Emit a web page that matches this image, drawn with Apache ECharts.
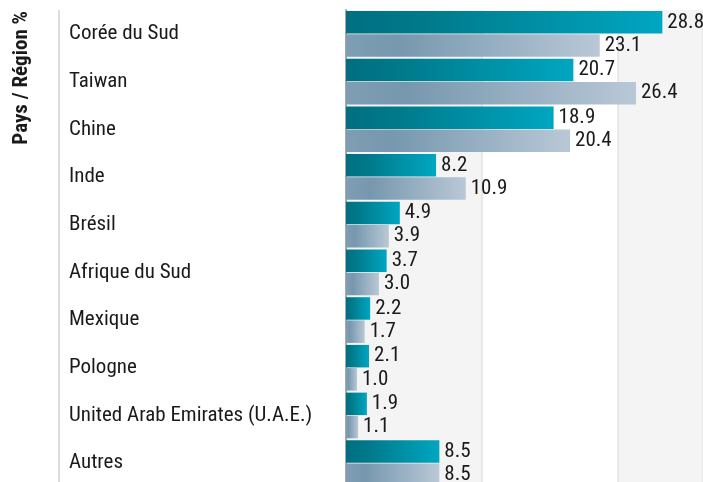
<!DOCTYPE html>
<html>
<head>
<meta charset="utf-8">
<script src="https://cdn.jsdelivr.net/npm/echarts@6/dist/echarts.min.js"></script>
<style>
html,body{margin:0;padding:0;background:#fff;}
#c{width:703px;height:482px;}
</style>
</head>
<body>
<div id="c"></div>
<script>
const categories = ['Corée du Sud','Taiwan','Chine','Inde','Brésil','Afrique du Sud','Mexique','Pologne','United Arab Emirates (U.A.E.)','Autres'];
const seriesA = [28.8, 20.7, 18.9, 8.2, 4.9, 3.7, 2.2, 2.1, 1.9, 8.5];
const seriesB = [23.1, 26.4, 20.4, 10.9, 3.9, 3.0, 1.7, 1.0, 1.1, 8.5];
const axisTitle = 'Pays / Région %';

const FONT = "'Roboto Condensed','Liberation Sans Narrow','DejaVu Sans Condensed',sans-serif";
const chart = echarts.init(document.getElementById('c'), null, {renderer:'canvas'});

function grad(stops){
  return new echarts.graphic.LinearGradient(0,0,1,0, stops.map((c,i)=>({offset:c[0],color:c[1]})));
}
const darkGrad = grad([[0,'#006f80'],[0.25,'#007a8b'],[1,'#00a6c1']]);
const lightGrad = grad([[0,'#7f9eb4'],[0.2,'#7697ae'],[1,'#b9c8d6']]);

const labelCfg = {
  show:true, position:'right', distance:5,
  fontFamily:FONT, fontSize:21, color:'#1a1a1a',
  formatter: p => p.value.toFixed(1)
};

chart.setOption({
  animation:false,
  backgroundColor:'#fff',
  grid:{left:346, width:357, top:10, height:477, containLabel:false, outerBoundsMode:'none'},
  xAxis:{
    type:'value', min:0, max:32.5, interval:12.375,
    axisLabel:{show:false}, axisTick:{show:false}, axisLine:{show:false},
    splitLine:{show:true, lineStyle:{color:'#e3e3e3', width:1.5}},
    splitArea:{show:true, areaStyle:{color:['#f4f4f4','#ffffff']}}
  },
  yAxis:{
    type:'category', data:categories, inverse:true,
    axisLine:{show:true, lineStyle:{color:'#a8a8a8', width:2}},
    axisTick:{show:false},
    axisLabel:{align:'left', margin:277, fontFamily:FONT, fontSize:21, color:'#1a1a1a'}
  },
  graphic:[
    {type:'line', shape:{x1:59, y1:10, x2:59, y2:482}, style:{stroke:'#dddddd', lineWidth:2}},
    {type:'text', x:22, y:11, rotation:Math.PI/2,
     style:{text:axisTitle, align:'right', verticalAlign:'middle', fontFamily:FONT, fontSize:21, fontWeight:'bold', fill:'#1a1a1a'}}
  ],
  series:[
    {type:'bar', data:seriesA, barWidth:22.5, barGap:'3%', itemStyle:{color:darkGrad}, label:labelCfg},
    {type:'bar', data:seriesB, barWidth:22.5, barGap:'3%', itemStyle:{color:lightGrad}, label:labelCfg}
  ]
});
</script>
</body>
</html>
